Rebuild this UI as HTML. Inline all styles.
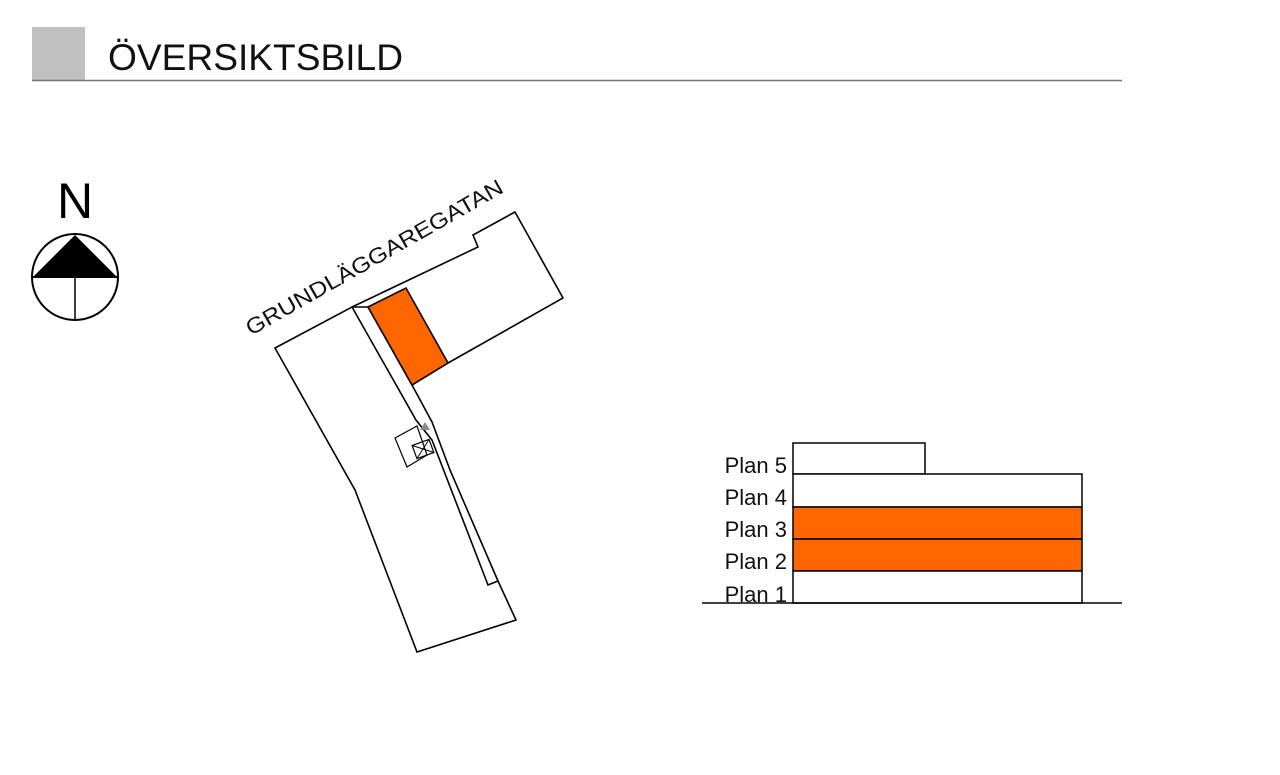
<!DOCTYPE html>
<html><head><meta charset="utf-8"><style>
html,body{margin:0;padding:0;background:#fff;}
svg{display:block;}
</style></head><body>
<svg width="1280" height="775" viewBox="0 0 1280 775" xmlns="http://www.w3.org/2000/svg" font-family="Liberation Sans, Arial, sans-serif">
<rect x="32" y="27" width="53" height="53" fill="#c0c0c0"/>
<text x="108" y="70" font-size="37" fill="#111" textLength="295" lengthAdjust="spacingAndGlyphs">ÖVERSIKTSBILD</text>
<line x1="32" y1="80.5" x2="1122" y2="80.5" stroke="#777" stroke-width="1.5"/>

<!-- compass -->
<text x="75" y="218" font-size="50" text-anchor="middle" fill="#000">N</text>
<circle cx="75" cy="277" r="43" fill="#fff" stroke="#000" stroke-width="2"/>
<polygon points="75,235 33,277 117,277" fill="#000"/>
<line x1="33" y1="277" x2="117" y2="277" stroke="#000" stroke-width="2"/>
<line x1="75" y1="277" x2="75" y2="320" stroke="#000" stroke-width="1.5"/>

<!-- plan -->
<g fill="none" stroke="#000" stroke-width="1.6" stroke-linejoin="miter">
<polygon points="515,212 563,298 448,363 412,385 368,307 352,307 275,348 355,490 417,652 516,620 498,581 488,585 432,440 416,420 352,307 478,247 473,235" fill="#fff"/>
<polygon points="368,307 406,288 448,363 412,385" fill="#ff6600"/>
<polyline points="412,385 432,422 450,470 498,581"/>
<polygon points="395,438 417,426 427,455 407,467" stroke-width="1.2"/>
<rect x="414" y="442" width="18" height="14" stroke-width="1.2" transform="rotate(-20 423 449)"/>
<line x1="414" y1="442" x2="432" y2="456" stroke-width="1" transform="rotate(-20 423 449)"/>
<line x1="432" y1="442" x2="414" y2="456" stroke-width="1" transform="rotate(-20 423 449)"/>
</g>
<polygon points="425,422 420,430 430,430" fill="#888"/>
<text x="0" y="0" font-size="22" fill="#111" transform="translate(251,336) rotate(-29.6)" textLength="292" lengthAdjust="spacingAndGlyphs">GRUNDLÄGGAREGATAN</text>

<!-- section -->
<g stroke="#000" stroke-width="1.5">
<rect x="793" y="443" width="132" height="31" fill="#fff"/>
<rect x="793" y="474" width="289" height="33" fill="#fff"/>
<rect x="793" y="507" width="289" height="32" fill="#ff6600"/>
<rect x="793" y="539" width="289" height="32" fill="#ff6600"/>
<rect x="793" y="571" width="289" height="32" fill="#fff"/>
<line x1="702" y1="603" x2="1122" y2="603"/>
</g>
<g font-size="22" fill="#111" text-anchor="end">
<text x="787" y="473">Plan 5</text>
<text x="787" y="505">Plan 4</text>
<text x="787" y="537">Plan 3</text>
<text x="787" y="569">Plan 2</text>
<text x="787" y="602">Plan 1</text>
</g>
</svg>
</body></html>
